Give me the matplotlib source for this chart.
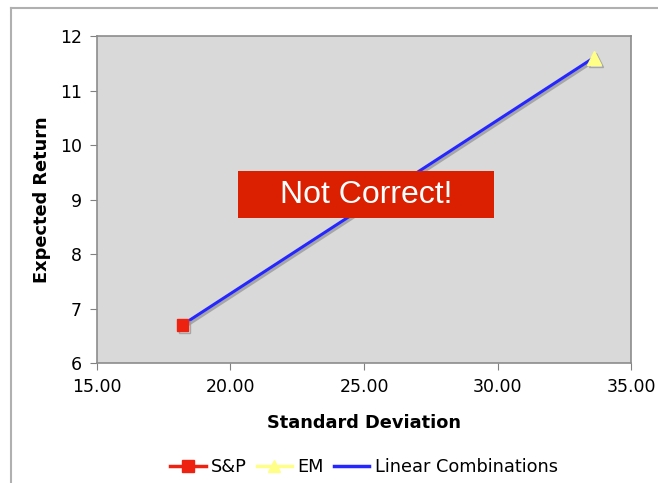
import matplotlib
matplotlib.use("Agg")
import matplotlib.pyplot as plt
import matplotlib.patches as patches
import matplotlib.patheffects as pe
from matplotlib.lines import Line2D

# portfolio end points: standard deviation vs expected return
sp_sd = [18.2]
sp_ret = [6.7]
em_sd = [33.6]
em_ret = [11.6]
combo_sd = [18.2, 33.6]
combo_ret = [6.7, 11.6]

x_ticks = [15, 20, 25, 30, 35]
y_ticks = [6, 7, 8, 9, 10, 11, 12]

plt.rcParams['font.family'] = ['DejaVu Sans']

fig = plt.figure(figsize=(6.58, 4.83), dpi=100)
ax = fig.add_axes([0.1474, 0.2484, 0.8116, 0.677])
ax.set_facecolor('#d9d9d9')

shadow = [pe.SimpleLineShadow(offset=(1.5, -1.5), shadow_color='#9a9a9a', alpha=0.8), pe.Normal()]

ax.plot(combo_sd, combo_ret, color='#2626ff', lw=2.2, zorder=3,
        path_effects=shadow, label='Linear Combinations')
ax.plot(sp_sd, sp_ret, linestyle='none', marker='s', ms=8.5, color='#ee2211',
        zorder=4, path_effects=shadow)
ax.plot(em_sd, em_ret, linestyle='none', marker='^', ms=10, color='#ffff88',
        zorder=4, path_effects=shadow)

ax.set_xlim(15, 35)
ax.set_ylim(6, 12)
ax.set_xticks(x_ticks)
ax.set_xticklabels(['%.2f' % v for v in x_ticks])
ax.set_yticks(y_ticks)
ax.tick_params(direction='out', length=5, color='#808080', labelsize=12.5, pad=6)
for s in ax.spines.values():
    s.set_color('#8c8c8c')
    s.set_linewidth(1.2)

ax.set_xlabel('Standard Deviation', fontsize=12.8, fontweight='bold', labelpad=13)
ax.set_ylabel('Expected Return', fontsize=12.8, fontweight='bold', labelpad=6)

# red "Not Correct!" banner
ax.add_patch(patches.Rectangle((0.264, 0.443), 0.479, 0.144, transform=ax.transAxes,
                               facecolor='#da2000', edgecolor='none', zorder=5))
ax.text(0.5035, 0.515, 'Not Correct!', transform=ax.transAxes, ha='center', va='center',
        color='white', fontsize=23, family='Liberation Sans', zorder=6)

handles = [
    Line2D([], [], color='#ee2211', marker='s', ms=8, lw=2.5),
    Line2D([], [], color='#ffff88', marker='^', ms=9, lw=2.5),
    Line2D([], [], color='#2626ff', lw=2.5),
]
fig.legend(handles, ['S&P', 'EM', 'Linear Combinations'], loc='center',
           bbox_to_anchor=(0.553, 0.033), ncol=3, frameon=False, fontsize=12.8,
           handlelength=2.0, handletextpad=0.3, columnspacing=0.55)

# partial frame around the chart
fig.add_artist(Line2D([11 / 658, 11 / 658], [0, 1 - 8 / 483], color='#b0b0b0', lw=1.5))
fig.add_artist(Line2D([11 / 658, 1], [1 - 8 / 483, 1 - 8 / 483], color='#b0b0b0', lw=1.5))

fig.savefig('out.png', dpi=100)
